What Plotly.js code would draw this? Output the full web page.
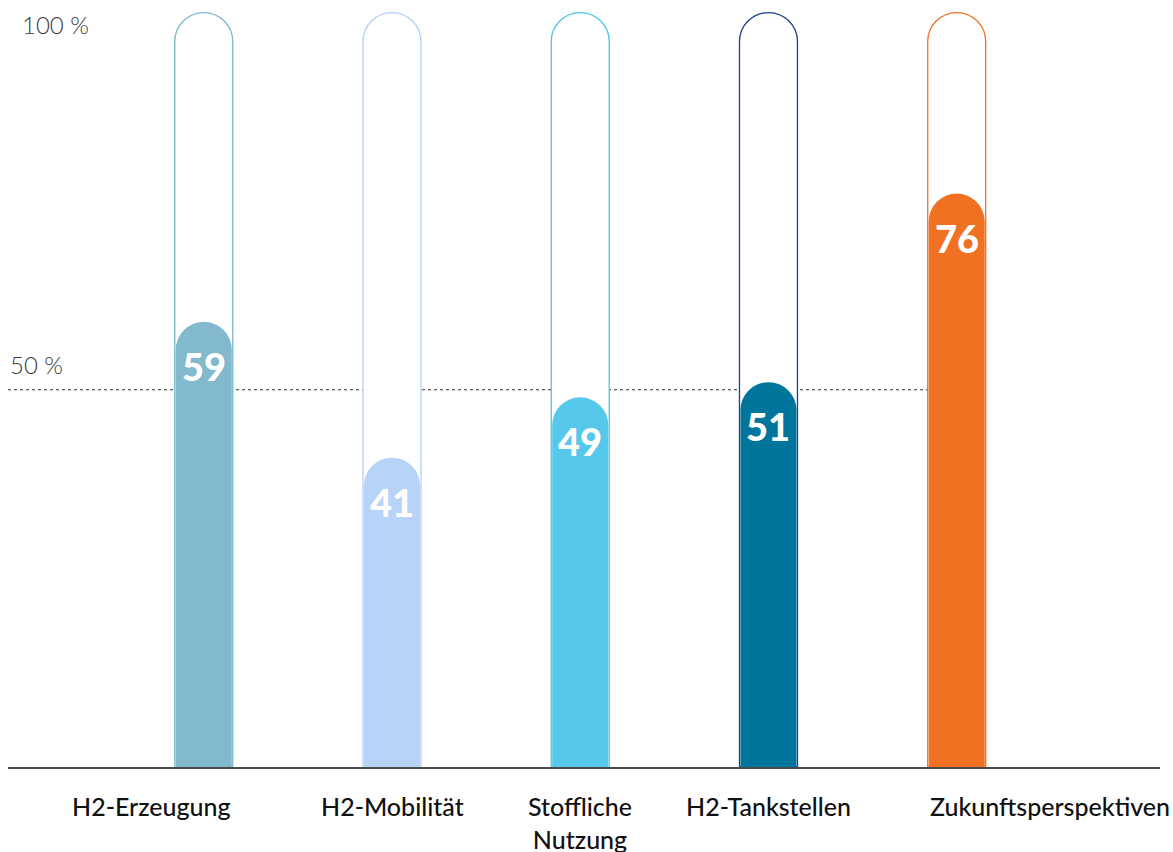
<!DOCTYPE html>
<html>
<head>
<meta charset="utf-8">
<script src="https://cdn.plot.ly/plotly-3.0.1.min.js"></script>
<style>html,body{margin:0;padding:0;background:#fff;}#chart{width:1173px;height:852px;}</style>
</head>
<body>
<div id="chart"></div>
<script>
const categories = ["H2-Erzeugung", "H2-Mobilität", "Stoffliche<br>Nutzung", "H2-Tankstellen", "Zukunftsperspektiven"];
const values = [59, 41, 49, 51, 76];
const maxValue = [100, 100, 100, 100, 100];
const fillColors = ["#82b9cd", "#b7d3f7", "#56c8ec", "#00759c", "#f07122"];
const outlineColors = ["#7ab6d0", "#b3d0f5", "#4fc4ea", "#1c3f92", "#f07122"];
const refTicks = [100, 50];
const refLabels = ["100 %", "50 %"];

const FONT = "Lato, 'Open Sans', sans-serif";
const XRANGE = [-1.04, 5.08];
const YRANGE = [0, 101];

const outlineTrace = {
  type: "bar",
  x: categories,
  y: maxValue,
  width: 0.308,
  marker: {color: "#ffffff", line: {color: outlineColors, width: 1.3}, cornerradius: "50%"},
  hoverinfo: "skip",
  showlegend: false
};
const fillTrace = {
  type: "bar",
  x: categories,
  y: values,
  xaxis: "x2", yaxis: "y2",
  width: 0.298,
  marker: {color: fillColors, line: {width: 0}, cornerradius: "50%"},
  hoverinfo: "skip",
  showlegend: false
};

const annotations = values.map((v, i) => ({
  x: categories[i], y: v, xref: "x", yref: "y",
  text: String(v), showarrow: false,
  yanchor: "middle", yshift: -44,
  font: {family: FONT, size: 38, color: "#ffffff", weight: 900}
}));
const labelX = [0.0104, 0.0];
const labelShift = [-12, 25];
refTicks.forEach((t, i) => {
  annotations.push({
    x: labelX[i], y: t, xref: "paper", yref: "y",
    text: refLabels[i], showarrow: false,
    xanchor: "left", yanchor: "middle", yshift: labelShift[i],
    font: {family: FONT, size: 24, color: "#3a3a3a", weight: 300}
  });
});
const catAnchor = ["right", "center", "center", "center", "left"];
const catXShift = [29, 0, 0, 0, -29];
categories.forEach((c, i) => {
  annotations.push({
    x: c, y: 0, xref: "x", yref: "y",
    text: c, showarrow: false,
    xanchor: catAnchor[i], yanchor: "top", yshift: -22, xshift: catXShift[i],
    align: "center",
    font: {family: FONT, size: 25, color: "#111111", weight: 500}
  });
});

const layout = {
  width: 1173, height: 852,
  margin: {l: 8, r: 13, t: 5, b: 85},
  paper_bgcolor: "#ffffff", plot_bgcolor: "#ffffff",
  barmode: "overlay",
  showlegend: false,
  xaxis: {
    type: "category",
    range: XRANGE,
    showgrid: false, zeroline: false,
    showline: true, linecolor: "#4a4a4a", linewidth: 2,
    ticks: "", showticklabels: false
  },
  yaxis: {
    range: YRANGE,
    showgrid: false, zeroline: false, showline: false,
    showticklabels: false, ticks: ""
  },
  xaxis2: {
    type: "category", overlaying: "x", range: XRANGE,
    visible: false, showgrid: false, zeroline: false
  },
  yaxis2: {
    overlaying: "y", range: YRANGE,
    visible: false, showgrid: false, zeroline: false
  },
  shapes: [{
    type: "line", layer: "below",
    xref: "paper", x0: 0, x1: 0.8, yref: "y", y0: 50, y1: 50,
    line: {color: "#333333", width: 1, dash: "dot"}
  }],
  annotations: annotations
};

Plotly.newPlot("chart", [outlineTrace, fillTrace], layout, {displayModeBar: false, staticPlot: true});
</script>
</body>
</html>
